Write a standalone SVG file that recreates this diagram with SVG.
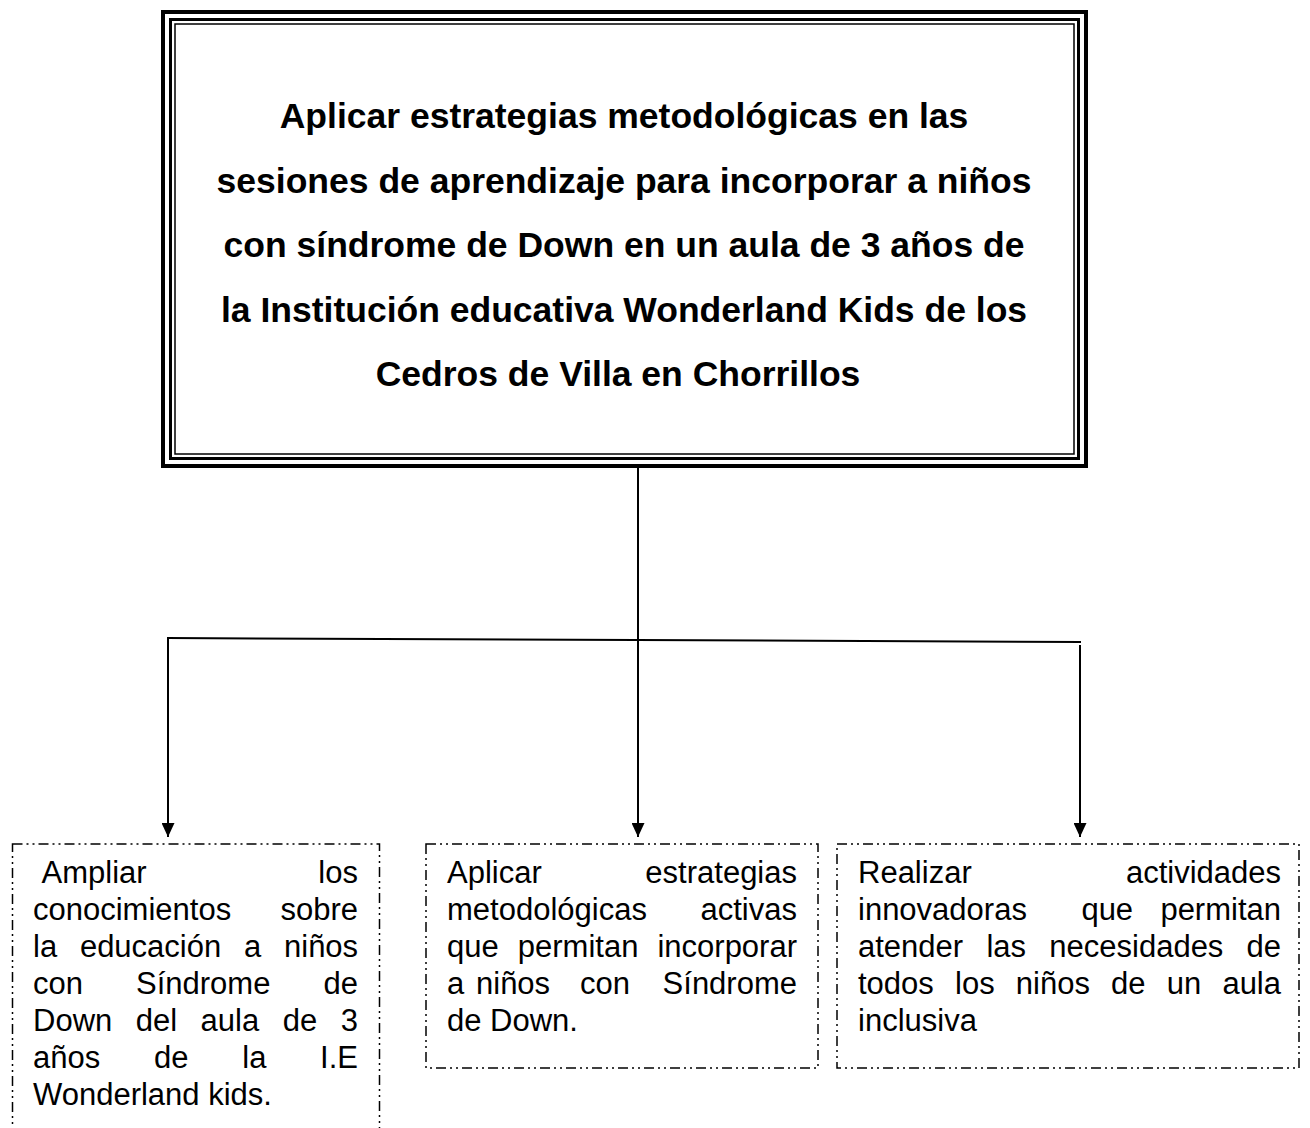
<svg xmlns="http://www.w3.org/2000/svg" width="1310" height="1128" viewBox="0 0 1310 1128">
<style>
.title{font-family:"Liberation Sans",Arial,sans-serif;font-weight:bold;font-size:35.5px;fill:#000;text-anchor:middle}
.t{font-family:"Liberation Sans",Arial,sans-serif;font-size:31px;fill:#000}
.e{text-anchor:end}
.frame{fill:none;stroke:#000}
.dash{fill:none;stroke:#000;stroke-width:1.5;stroke-dasharray:10 4 2 4 2 4}
.conn{fill:none;stroke:#000;stroke-width:2}
</style>
<defs>
<marker id="arr" markerUnits="userSpaceOnUse" markerWidth="14" markerHeight="13" refX="14" refY="6.5" orient="auto">
<path d="M0,0 L14,6.5 L0,13 z" fill="#000"/>
</marker>
</defs>
<rect width="1310" height="1128" fill="#fff"/>
<g id="main">
<rect class="frame" x="163" y="12" width="923" height="454" stroke-width="4"/>
<rect class="frame" x="170.5" y="19.5" width="908" height="439" stroke-width="3"/>
<rect class="frame" x="175" y="24" width="899" height="430" stroke-width="1.5"/>
<text class="title" x="624" y="128">Aplicar estrategias metodológicas en las</text>
<text class="title" x="624" y="192.5">sesiones de aprendizaje para incorporar a niños</text>
<text class="title" x="624" y="257">con síndrome de Down en un aula de 3 años de</text>
<text class="title" x="624" y="321.5">la Institución educativa Wonderland Kids de los</text>
<text class="title" x="618" y="386">Cedros de Villa en Chorrillos</text>
</g>
<g id="connectors">
<line class="conn" x1="638" y1="468" x2="638" y2="837" marker-end="url(#arr)"/>
<line class="conn" x1="167" y1="638" x2="1081" y2="642"/>
<line class="conn" x1="168" y1="637" x2="168" y2="837" marker-end="url(#arr)"/>
<line class="conn" x1="1080" y1="645" x2="1080" y2="837" marker-end="url(#arr)"/>
</g>
<g id="obj1">
<rect class="dash" x="12.5" y="844" width="367" height="300"/>
<text class="t" x="41.6" y="883">Ampliar</text><text class="t e" x="358" y="883">los</text>
<text class="t" x="33" y="920">conocimientos</text><text class="t e" x="358" y="920">sobre</text>
<text class="t" y="957"><tspan x="33">la</tspan><tspan x="79.9">educación</tspan><tspan x="244">a</tspan><tspan x="284">niños</tspan></text>
<text class="t" y="994"><tspan x="33">con</tspan><tspan x="136">Síndrome</tspan></text><text class="t e" x="358" y="994">de</text>
<text class="t" y="1031"><tspan x="33">Down</tspan><tspan x="135.7">del</tspan><tspan x="200.6">aula</tspan><tspan x="282.7">de</tspan><tspan x="340.7">3</tspan></text>
<text class="t" y="1068"><tspan x="33">años</tspan><tspan x="154">de</tspan><tspan x="242.3">la</tspan></text><text class="t e" x="358" y="1068">I.E</text>
<text class="t" x="33" y="1105">Wonderland kids.</text>
</g>
<g id="obj2">
<rect class="dash" x="426" y="844" width="392" height="224"/>
<text class="t" x="447" y="883">Aplicar</text><text class="t e" x="797" y="883">estrategias</text>
<text class="t" x="447" y="920">metodológicas</text><text class="t e" x="797" y="920">activas</text>
<text class="t" y="957"><tspan x="447">que</tspan><tspan x="517.8">permitan</tspan></text><text class="t e" x="797" y="957">incorporar</text>
<text class="t" y="994"><tspan x="447">a</tspan><tspan x="476">niños</tspan><tspan x="580">con</tspan></text><text class="t e" x="797" y="994">Síndrome</text>
<text class="t" x="447" y="1031">de Down.</text>
</g>
<g id="obj3">
<rect class="dash" x="837" y="844" width="462" height="224"/>
<text class="t" x="858" y="883">Realizar</text><text class="t e" x="1281" y="883">actividades</text>
<text class="t" y="920"><tspan x="858">innovadoras</tspan><tspan x="1081.4">que</tspan></text><text class="t e" x="1281" y="920">permitan</text>
<text class="t" y="957"><tspan x="858">atender</tspan><tspan x="986.4">las</tspan><tspan x="1049.3">necesidades</tspan></text><text class="t e" x="1281" y="957">de</text>
<text class="t" y="994"><tspan x="858">todos</tspan><tspan x="955">los</tspan><tspan x="1015.8">niños</tspan><tspan x="1111.1">de</tspan><tspan x="1166.8">un</tspan></text><text class="t e" x="1281" y="994">aula</text>
<text class="t" x="858" y="1031">inclusiva</text>
</g>
</svg>
